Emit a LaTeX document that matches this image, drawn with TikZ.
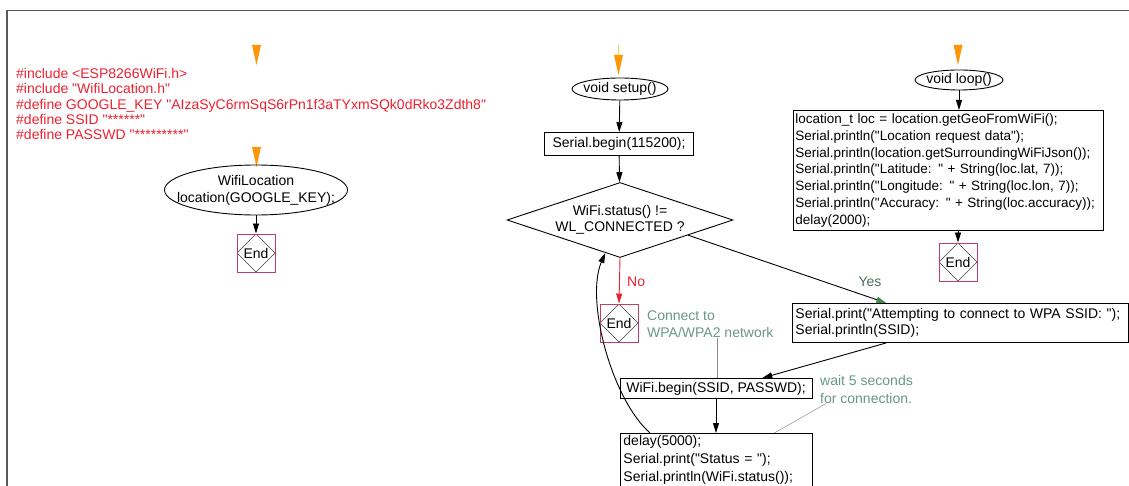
\documentclass[tikz,border=0pt]{standalone}
\usepackage{fontspec}
\setmainfont{Liberation Sans}[Ligatures=TeXOff]
\usetikzlibrary{arrows.meta,shapes.geometric,calc}
\definecolor{codered}{RGB}{238,32,48}
\definecolor{endred}{RGB}{192,64,96}
\definecolor{notegreen}{RGB}{105,150,138}
\definecolor{yesgreen}{RGB}{80,112,92}
\definecolor{framegray}{RGB}{90,90,90}
\definecolor{markorange}{RGB}{255,150,10}
\definecolor{markyellow}{RGB}{250,215,60}
\begin{document}
\begin{tikzpicture}[x=1pt,y=-1pt,
  every node/.style={font=\fontsize{14}{15.5}\selectfont, inner sep=0pt},
  codebox/.style={draw, line width=0.9pt, align=left, anchor=north west,
                  inner xsep=3pt, inner ysep=2pt},
  stmt/.style={draw, line width=0.9pt, align=center},
  term/.style={draw, ellipse, line width=0.9pt},
  decision/.style={draw, diamond, line width=0.9pt},
  endsq/.style={draw=endred, line width=0.9pt, minimum size=38pt,
     path picture={\draw[black!75, line width=0.6pt]
        (path picture bounding box.north) -- (path picture bounding box.west) --
        (path picture bounding box.south) -- (path picture bounding box.east) -- cycle;}},
  arr/.style={line width=0.9pt, -{Triangle[length=10pt,width=6pt]}},
  note/.style={text=notegreen, align=left, anchor=west},
  noteline/.style={draw=black!45, line width=0.5pt},
  pics/entrytip/.style={code={\fill[markorange] (-4.5,0) -- (4.5,0) -- (0,20) -- cycle;}}
]
\useasboundingbox (0,0) rectangle (1129,486);

% page frame
\draw[framegray, line width=1.5pt] (7,486) -- (7,10.5) -- (1129,10.5);

% ---------- global declarations ----------
\pic at (256.5,45) {entrytip};
\node[text=codered, align=left, anchor=west, font=\fontsize{14}{15.4}\selectfont] (decl) at (16,104)
  {\#include <ESP8266WiFi.h>\\
   \#include "WifiLocation.h"\\
   \#define GOOGLE\_KEY "AIzaSyC6rmSqS6rPn1f3aTYxmSQk0dRko3Zdth8"\\
   \#define SSID "******"\\
   \#define PASSWD "*********"};

\pic at (256.5,147) {entrytip};
\node[term, minimum width=183pt, minimum height=50pt,
      label={[align=center, font=\fontsize{14}{17}\selectfont]center:WifiLocation\\location(GOOGLE\_KEY);}]
      (locobj) at (256,190) {};
\node[endsq] (end0) at (256,253) {End};
\draw[arr] (locobj) -- (end0);

% ---------- setup() ----------
\draw[markyellow, line width=1pt] (618.5,45) -- (618.5,60);
\pic at (618.5,55) {entrytip};
\node[term, minimum width=96pt, minimum height=22pt, label={center:void setup()}] (setup) at (620,89) {};
\node[stmt, minimum width=149pt, minimum height=23pt] (sbegin) at (619,144) {Serial.begin(115200);};
\node[decision, minimum width=226pt, minimum height=75pt,
      label={[align=center, font=\fontsize{14}{16}\selectfont]center:WiFi.status() !=\\WL\_CONNECTED ?}]
      (check) at (620,220) {};
\node[endsq] (endno) at (619,323) {End};
\node[text=codered, anchor=west] (nolab) at (627,282) {No};
\node[text=yesgreen] (yeslab) at (870,282) {Yes};

\node[codebox, text width=330pt, minimum height=39pt] (sprint) at (792,303)
  {Serial.print("Attempting to connect to WPA SSID: ");\\Serial.println(SSID);};
\node[stmt, minimum width=192pt, minimum height=20pt] (wbegin) at (716,388.5) {WiFi.begin(SSID, PASSWD);};
\node[codebox, text width=186pt, font=\fontsize{14}{18}\selectfont] (wait) at (620,433)
  {delay(5000);\\Serial.print("Status = ");\\Serial.println(WiFi.status());};

\node[note, font=\fontsize{14}{17.5}\selectfont] (cmt1) at (647,324) {Connect to\\WPA/WPA2 network};
\node[note, font=\fontsize{14}{17.5}\selectfont] (cmt2) at (820,389.5) {wait 5 seconds\\for connection.};

\draw[arr] (setup) -- (sbegin);
\draw[arr] (sbegin) -- (check);
\draw[arr, draw=codered, -{Triangle[length=10pt,width=6pt,color=codered]}] (check.south) -- (endno.north);
\draw[arr, -{Triangle[length=10pt,width=6pt,color=yesgreen!80!green]}]
  ($(check.east)!0.4!(check.south)$) -- ($(sprint.north west)!0.28!(sprint.north east)$);
\draw[arr] ($(sprint.south west)!0.28!(sprint.south east)$) -- ($(wbegin.north west)!0.74!(wbegin.north east)$);
\draw[arr] (wbegin) -- (wait.north -| wbegin);
\draw[arr] ($(wait.north west)!0.156!(wait.north east)$)
  .. controls (612,400) and (585,300) .. ($(check.west)!0.87!(check.south)$);
\draw[noteline] (cmt1.south -| 717,0) -- (wbegin.north -| 717,0);
\draw[noteline] ($(cmt2.south west)+(6,0)$) -- ($(wait.north west)!0.8!(wait.north east)$);

% ---------- loop() ----------
\pic at (958,45) {entrytip};
\node[term, minimum width=88pt, minimum height=20pt, label={center:void loop()}] (loop) at (959,80) {};
\node[codebox, inner xsep=2pt, text width=306pt, minimum height=120pt, font=\fontsize{13.5}{16.7}\selectfont] (lbody) at (793,110)
  {\mbox{location\_t loc = location.getGeoFromWiFi();}\\
   \mbox{Serial.println("Location request data");}\\
   \mbox{Serial.println(location.getSurroundingWiFiJson());}\\
   \mbox{Serial.println("Latitude: " + String(loc.lat, 7));}\\
   \mbox{Serial.println("Longitude: " + String(loc.lon, 7));}\\
   \mbox{Serial.println("Accuracy: " + String(loc.accuracy));}\\
   delay(2000);};
\node[endsq] (endl) at (958,262) {End};
\draw[arr] (loop) -- (loop.south |- lbody.north);
\draw[arr] (endl.north |- lbody.south) -- (endl);
\end{tikzpicture}
\end{document}
